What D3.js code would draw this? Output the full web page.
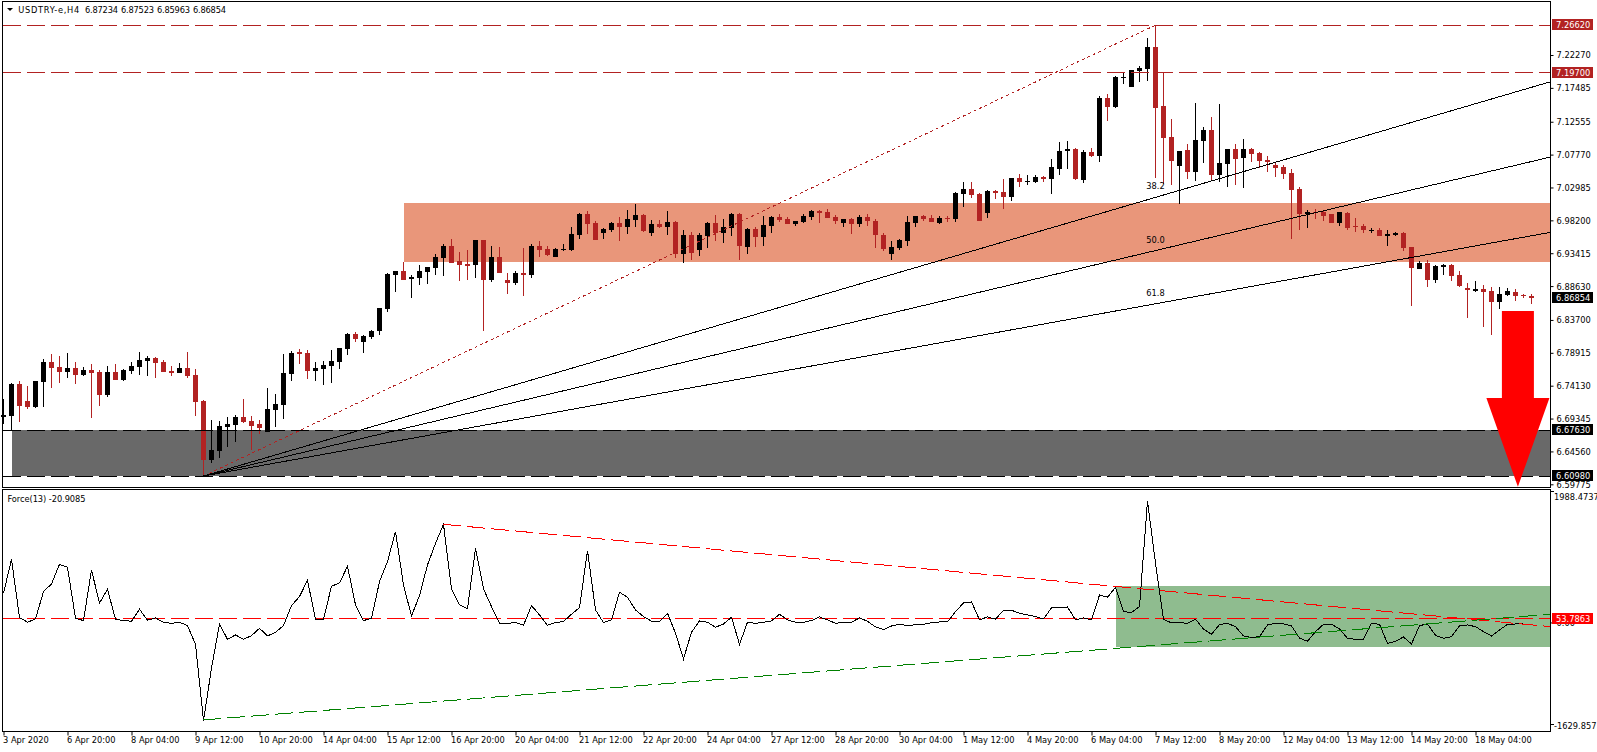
<!DOCTYPE html>
<html>
<head>
<meta charset="utf-8">
<script src="https://d3js.org/d3.v7.min.js"></script>
<style>
  html, body { margin: 0; padding: 0; background: #fff; overflow: hidden; }
  svg { display: block; }
  text { font-family: "DejaVu Sans Condensed", "DejaVu Sans", sans-serif; font-stretch: condensed; font-size: 9.2px; fill: #000; white-space: pre; }
  .axis path { display: none; }
  .axis line { stroke: #000; }
  .crisp { shape-rendering: crispEdges; }
</style>
</head>
<body>
<div class="viz"></div>
<script>
// one entry per H4 bar, left to right
var opens = [
  6.6962,6.6976,6.7438,6.7185,6.7107,6.7471,6.7758,6.7685,6.7612,6.7670,6.7569,6.7641,6.7612,6.7277,6.7612,6.7496,
  6.7627,6.7685,6.7772,6.7816,6.7758,6.7627,6.7598,6.7670,6.7569,6.7190,6.6331,6.6462,6.6811,6.6841,6.6957,6.6899,
  6.6855,6.6739,6.7059,6.7132,6.7583,6.7903,6.7889,6.7627,6.7656,6.7700,6.7758,6.7947,6.8165,6.8049,6.8122,6.8209,
  6.8529,6.9024,6.9082,6.8966,6.8980,6.9068,6.9126,6.9271,6.9446,6.9228,6.9184,6.9169,6.9533,6.8951,6.9286,6.8951,
  6.8907,6.9053,6.9024,6.9446,6.9402,6.9286,6.9388,6.9388,6.9606,6.9912,6.9781,6.9635,6.9679,6.9781,6.9723,6.9825,
  6.9897,6.9635,6.9766,6.9723,6.9796,6.9330,6.9606,6.9388,6.9592,6.9781,6.9635,6.9708,6.9912,6.9432,6.9694,6.9577,
  6.9737,6.9868,6.9839,6.9766,6.9796,6.9868,6.9956,6.9941,6.9868,6.9781,6.9839,6.9766,6.9868,6.9810,6.9606,6.9330,
  6.9417,6.9519,6.9781,6.9883,6.9854,6.9781,6.9854,6.9839,7.0203,7.0276,7.0203,6.9927,7.0247,7.0232,7.0160,7.0436,
  7.0378,7.0378,7.0451,7.0422,7.0567,7.0829,7.0858,7.0407,7.0815,7.0756,7.1601,7.1470,7.1892,7.1761,7.1994,7.2023,
  7.2343,7.1484,7.1033,7.0611,7.0844,7.0523,7.0975,7.1135,7.0480,7.0640,7.0858,7.0727,7.0858,7.0800,7.0698,7.0625,
  7.0596,7.0509,7.0276,6.9912,6.9941,6.9941,6.9912,6.9781,6.9926,6.9737,6.9737,6.9664,6.9679,6.9592,6.9606,6.9635,
  6.9431,6.9111,6.9198,6.8951,6.9140,6.9169,6.9024,6.8834,6.8791,6.8820,6.8791,6.8631,6.8733,6.8776,6.8733,6.87234
];
var highs = [
  6.7219,6.7447,6.7481,6.7408,6.7481,6.7797,6.7874,6.7845,6.7889,6.7758,6.7685,6.7729,6.7641,6.7700,6.7729,6.7656,
  6.7758,6.7903,6.7845,6.7835,6.7787,6.7700,6.7743,6.7903,6.7656,6.7200,6.6913,6.6899,6.6957,6.6986,6.7219,6.6972,
  6.6913,6.7379,6.7292,6.7874,6.7918,6.7947,6.7933,6.7758,6.7772,6.7933,6.7962,6.8180,6.8195,6.8151,6.8224,6.8549,
  6.9049,6.9083,6.9213,6.9024,6.9169,6.9140,6.9330,6.9475,6.9548,6.9359,6.9388,6.9533,6.9533,6.9446,6.9432,6.9053,
  6.9082,6.9417,6.9475,6.9519,6.9446,6.9417,6.9475,6.9723,6.9927,6.9956,6.9810,6.9708,6.9796,6.9868,6.9970,7.0058,
  6.9912,6.9825,6.9825,6.9956,6.9810,6.9679,6.9650,6.9635,6.9796,6.9897,6.9839,6.9927,6.9927,6.9708,6.9723,6.9883,
  6.9883,6.9912,6.9868,6.9810,6.9912,6.9970,6.9970,6.9985,6.9897,6.9839,6.9854,6.9897,6.9912,6.9839,6.9635,6.9519,
  6.9548,6.9883,6.9883,6.9897,6.9897,6.9883,6.9883,7.0232,7.0378,7.0378,7.0218,7.0261,7.0261,7.0422,7.0436,7.0494,
  7.0480,7.0480,7.0465,7.0713,7.0960,7.0975,7.0873,7.0844,7.0873,7.1630,7.1659,7.1921,7.1979,7.2008,7.2067,7.2474,
  7.2662,7.1974,7.1295,7.0829,7.0931,7.1528,7.1179,7.1324,7.1513,7.0858,7.0931,7.1004,7.0873,7.0815,7.0756,7.0669,
  7.0625,7.0567,7.0305,6.9970,6.9985,6.9970,6.9912,6.9941,6.9941,6.9854,6.9766,6.9708,6.9708,6.9679,6.9650,6.9650,
  6.9431,6.9228,6.9242,6.9169,6.9184,6.9184,6.9082,6.8907,6.8936,6.8878,6.8849,6.8849,6.8834,6.8820,6.8747,6.87523
];
var lows = [
  6.6860,6.6758,6.6889,6.7078,6.7093,6.7107,6.7379,6.7452,6.7525,6.7438,6.7554,6.6942,6.7117,6.7248,6.7496,6.7481,
  6.7583,6.7569,6.7554,6.7525,6.7612,6.7554,6.7598,6.7525,6.6972,6.6098,6.6287,6.6360,6.6520,6.6593,6.6870,6.6477,
  6.6710,6.6739,6.6811,6.6928,6.7481,6.7729,6.7510,6.7481,6.7423,6.7452,6.7656,6.7860,6.8049,6.7889,6.8093,6.8151,
  6.8486,6.8777,6.8951,6.8689,6.8878,6.8893,6.9024,6.9009,6.9199,6.8937,6.8951,6.8980,6.8209,6.8922,6.9053,6.8747,
  6.8878,6.8718,6.8980,6.9286,6.9301,6.9286,6.9373,6.9373,6.9548,6.9621,6.9533,6.9548,6.9650,6.9519,6.9621,6.9723,
  6.9650,6.9592,6.9708,6.9606,6.9271,6.9199,6.9242,6.9301,6.9417,6.9519,6.9490,6.9592,6.9242,6.9330,6.9432,6.9446,
  6.9635,6.9796,6.9766,6.9737,6.9781,6.9825,6.9781,6.9854,6.9766,6.9723,6.9621,6.9723,6.9737,6.9417,6.9373,6.9242,
  6.9388,6.9446,6.9723,6.9810,6.9796,6.9766,6.9796,6.9796,7.0014,7.0145,6.9810,6.9854,7.0130,6.9985,7.0101,7.0305,
  7.0334,7.0363,7.0378,7.0203,7.0480,7.0567,7.0407,7.0363,7.0742,7.0669,7.1266,7.1455,7.1805,7.1761,7.1834,7.1848,
  7.0436,7.0349,7.0334,7.0058,7.0422,7.0392,7.0654,7.0407,7.0378,7.0305,7.0334,7.0290,7.0669,7.0582,7.0523,7.0451,
  7.0422,6.9548,6.9679,6.9708,6.9839,6.9810,6.9781,6.9737,6.9679,6.9650,6.9635,6.9635,6.9592,6.9446,6.9592,6.9373,
  6.8572,6.9111,6.8849,6.8907,6.9024,6.8936,6.8849,6.8398,6.8776,6.8267,6.8150,6.8529,6.8718,6.8645,6.8689,6.85963
];
var closes = [
  6.6991,6.7438,6.7122,6.7107,6.7481,6.7758,6.7670,6.7612,6.7670,6.7569,6.7641,6.7598,6.7277,6.7612,6.7496,6.7641,
  6.7700,6.7787,6.7816,6.7743,6.7612,6.7598,6.7670,6.7554,6.7175,6.6331,6.6477,6.6826,6.6855,6.6957,6.6884,6.6826,
  6.6797,6.7074,6.7146,6.7598,6.7889,6.7874,6.7627,6.7670,6.7714,6.7772,6.7962,6.8165,6.8093,6.8136,6.8209,6.8539,
  6.9039,6.9083,6.8951,6.8995,6.9082,6.9140,6.9286,6.9446,6.9199,6.9169,6.9155,6.9533,6.8951,6.9286,6.9053,6.8907,
  6.9053,6.9024,6.9446,6.9388,6.9315,6.9402,6.9402,6.9621,6.9912,6.9766,6.9533,6.9694,6.9781,6.9723,6.9839,6.9897,
  6.9664,6.9766,6.9723,6.9796,6.9330,6.9606,6.9344,6.9606,6.9781,6.9635,6.9723,6.9912,6.9446,6.9694,6.9577,6.9752,
  6.9868,6.9825,6.9766,6.9810,6.9883,6.9956,6.9927,6.9854,6.9810,6.9839,6.9766,6.9868,6.9810,6.9606,6.9402,6.9432,
  6.9534,6.9796,6.9883,6.9839,6.9796,6.9854,6.9839,7.0218,7.0276,7.0189,6.9810,7.0247,7.0218,7.0160,7.0436,7.0378,
  7.0392,7.0451,7.0422,7.0596,7.0829,7.0858,7.0422,7.0815,7.0756,7.1601,7.1470,7.1907,7.1907,7.2008,7.2038,7.2343,
  7.1455,7.1018,7.0684,7.0829,7.0523,7.0989,7.1135,7.0480,7.0654,7.0858,7.0713,7.0858,7.0786,7.0684,7.0669,7.0582,
  7.0494,7.0261,6.9912,6.9941,6.9927,6.9883,6.9781,6.9941,6.9708,6.9723,6.9679,6.9679,6.9592,6.9621,6.9635,6.9417,
  6.9126,6.9198,6.8951,6.9155,6.9169,6.9009,6.8864,6.8805,6.8820,6.8776,6.8631,6.8747,6.8791,6.8718,6.8718,6.86854
];
// Force(13) per bar
var force = [
  438,948,73,3,53,463,578,873,828,63,28,788,288,498,48,28,18,198,33,68,3,-13,3,-48,-328,-1473,-688,-28,-253,-188,-253,-198,
  -88,-203,-148,-48,253,388,633,48,48,543,593,843,263,28,63,613,913,1363,563,98,403,863,1188,1473,498,263,203,1113,503,238,-13,
  -13,-3,-43,253,113,-43,-3,13,123,223,1078,188,-3,38,453,378,188,88,18,18,138,-163,-548,-148,23,3,-73,-23,78,-328,3,-13,3,
  23,123,38,3,3,28,83,38,-13,3,3,68,18,-68,-108,-53,-28,-48,-33,-28,-3,7,7,163,293,308,38,83,48,183,183,138,113,88,53,218,218,233,38,68,38,
  413,378,528,163,148,238,1823,888,48,-8,-3,-13,48,-98,-178,-33,-13,-63,-203,-228,-213,-38,-13,-23,-53,-233,-283,-138,-28,-28,-98,
  -238,-253,-253,-13,-28,-313,-283,-218,-323,-48,-23,-193,-238,-213,-53,-38,-63,-138,-203,-113,-28,-23,-21
];

var priceTicks = [7.2227,7.17485,7.12555,7.0777,7.02985,6.982,6.93415,6.8863,6.837,6.78915,6.7413,6.69345,6.6456,6.59775];
var dateLabels = ["3 Apr 2020","6 Apr 20:00","8 Apr 04:00","9 Apr 12:00","10 Apr 20:00","14 Apr 04:00","15 Apr 12:00","16 Apr 20:00",
  "20 Apr 04:00","21 Apr 12:00","22 Apr 20:00","24 Apr 04:00","27 Apr 12:00","28 Apr 20:00","30 Apr 04:00","1 May 12:00",
  "4 May 20:00","6 May 04:00","7 May 12:00","8 May 20:00","12 May 04:00","13 May 12:00","14 May 20:00","18 May 04:00"];
var barsPerTick = 8;
var titleValues = ["6.87234", "6.87523", "6.85963", "6.86854"];

var resistanceLevels = [7.2662, 7.197];
var supportLevels = [6.6763, 6.6098];
var zoneTop = 7.0073, zoneBottom = 6.9213, zoneStartBar = 50;
var supportStartBar = 1;
var fanLevels = [0.382, 0.5, 0.618];
var fanLabels = ["38.2", "50.0", "61.8"];
var fanStart = {bar: 25, price: 6.6098}, fanEnd = {bar: 144, price: 7.2662};

var forceLevel = 53.7863;
var forceZone = {bar: 139, top: 547, bottom: -362};
var forceDown = {bars: [55, 193.3], values: [1473, -62]};
var forceUp = {bars: [25, 193.3], values: [-1463, 122]};

// set the layout of the two panes
var width = 1597, height = 752,
    left = 2.5, right = 1550.5,
    mainTop = 1.5, mainBottom = 487.5,
    subTop = 489.5, subBottom = 731.5;

var svg = d3.select(".viz").append("svg")
    .attr("width", width)
    .attr("height", height);

var x = d3.scaleLinear().domain([0, 191]).range([3.5, 1531.5]);
var y = d3.scaleLinear().domain([6.59775, 7.2227]).range([484.3, 55]);
var yF = d3.scaleLinear().domain([-1629.857, 1988.4737]).range([731, 490]);
var lastBar = x.invert(1550);

// zones go behind the candles
svg.append("rect").attr("class", "crisp")
    .attr("x", x(zoneStartBar)).attr("width", right - x(zoneStartBar))
    .attr("y", y(zoneTop)).attr("height", y(zoneBottom) - y(zoneTop))
    .attr("fill", "#e9967a");
svg.append("rect").attr("class", "crisp")
    .attr("x", x(supportStartBar)).attr("width", right - x(supportStartBar))
    .attr("y", y(supportLevels[0])).attr("height", y(supportLevels[1]) - y(supportLevels[0]))
    .attr("fill", "#696969");
svg.append("rect").attr("class", "crisp")
    .attr("x", x(forceZone.bar)).attr("width", right - x(forceZone.bar))
    .attr("y", yF(forceZone.top)).attr("height", yF(forceZone.bottom) - yF(forceZone.top))
    .attr("fill", "#8fbc8f");

// candles
var bars = d3.range(opens.length);
var barColor = function(i) { return closes[i] < opens[i] ? "#b22222" : "#000"; };

svg.append("g").attr("class", "crisp").selectAll("line")
    .data(bars).join("line")
    .attr("x1", i => x(i)).attr("x2", i => x(i))
    .attr("y1", i => y(highs[i])).attr("y2", i => y(lows[i]))
    .attr("stroke", barColor);

svg.append("g").attr("class", "crisp").selectAll("rect")
    .data(bars).join("rect")
    .attr("x", i => x(i) - 2.5).attr("width", 5)
    .attr("y", i => y(Math.max(opens[i], closes[i])))
    .attr("height", i => Math.max(1, Math.abs(y(opens[i]) - y(closes[i]))))
    .attr("fill", barColor);

// horizontal levels
function hline(v, scale, color) {
    svg.append("line").attr("class", "crisp")
        .attr("x1", 3).attr("x2", right)
        .attr("y1", scale(v)).attr("y2", scale(v))
        .attr("stroke", color)
        .attr("stroke-dasharray", "18 6");
}
resistanceLevels.forEach(v => hline(v, y, "#b22222"));
supportLevels.forEach(v => hline(v, y, "#000"));
hline(forceLevel, yF, "#ff0000");

// fibonacci fan
svg.append("line").attr("class", "crisp")
    .attr("x1", x(fanStart.bar)).attr("y1", y(fanStart.price))
    .attr("x2", x(fanEnd.bar)).attr("y2", y(fanEnd.price))
    .attr("stroke", "#b22222")
    .attr("stroke-dasharray", "3 3");

fanLevels.forEach(function(r, k) {
    var levelPrice = fanEnd.price - r * (fanEnd.price - fanStart.price);
    var endPrice = fanStart.price + (levelPrice - fanStart.price) * (lastBar - fanStart.bar) / (fanEnd.bar - fanStart.bar);
    svg.append("line").attr("class", "crisp")
        .attr("x1", x(fanStart.bar)).attr("y1", y(fanStart.price))
        .attr("x2", x(lastBar)).attr("y2", y(endPrice))
        .attr("stroke", "#000");
    svg.append("text")
        .attr("x", x(fanEnd.bar)).attr("y", y(levelPrice) - 8)
        .attr("text-anchor", "middle")
        .text(fanLabels[k]);
});

// force line and its trend lines
var forceLine = d3.line().x((d, i) => x(i)).y(d => yF(d));
svg.append("path").attr("class", "crisp")
    .attr("d", forceLine(force))
    .attr("fill", "none")
    .attr("stroke", "#000");

function trend(t, color) {
    svg.append("line").attr("class", "crisp")
        .attr("x1", x(t.bars[0])).attr("y1", yF(t.values[0]))
        .attr("x2", x(t.bars[1])).attr("y2", yF(t.values[1]))
        .attr("stroke", color)
        .attr("stroke-dasharray", "18 6");
}
trend(forceDown, "#ff0000");
trend(forceUp, "#008000");

// pane frames
svg.append("rect").attr("class", "crisp")
    .attr("x", left).attr("y", mainTop)
    .attr("width", right - left).attr("height", mainBottom - mainTop)
    .attr("fill", "none").attr("stroke", "#000");
svg.append("rect").attr("class", "crisp")
    .attr("x", left).attr("y", subTop)
    .attr("width", right - left).attr("height", subBottom - subTop)
    .attr("fill", "none").attr("stroke", "#000");

// axes
svg.append("g").attr("class", "axis")
    .attr("transform", "translate(" + right + ",0)")
    .call(d3.axisRight(y).tickValues(priceTicks).tickSize(3).tickPadding(3).tickFormat(d3.format(".5f")));

svg.append("g").attr("class", "axis")
    .attr("transform", "translate(" + right + ",0)")
    .call(d3.axisRight(yF).tickValues([0]).tickSize(3).tickPadding(3).tickFormat(d3.format(".2f")));

svg.append("g").attr("class", "axis")
    .attr("transform", "translate(0," + subBottom + ")")
    .call(d3.axisBottom(x).tickValues(dateLabels.map((d, k) => k * barsPerTick)).tickSize(4).tickPadding(1)
        .tickFormat((d, k) => dateLabels[k]))
    .selectAll("text").attr("text-anchor", "start").attr("dx", -1);

svg.selectAll(".axis text").style("font-size", "9.2px").style("font-family", "'DejaVu Sans Condensed', 'DejaVu Sans', sans-serif");

// force scale ends sit just inside the pane
svg.append("text").attr("x", 1554).attr("y", subTop + 10).text("1988.4737");
svg.append("text").attr("x", 1554).attr("y", subBottom - 3).text("-1629.857");
[subTop + 2, subBottom - 7].forEach(function(v) {
    svg.append("line").attr("class", "crisp")
        .attr("x1", right).attr("x2", right + 3)
        .attr("y1", v).attr("y2", v)
        .attr("stroke", "#000");
});

// price flags on the scale
function flag(v, scale, label, color) {
    var cy = Math.round(scale(v));
    svg.append("rect").attr("class", "crisp")
        .attr("x", 1552).attr("y", cy - 6)
        .attr("width", 41).attr("height", 11)
        .attr("fill", color);
    svg.append("text")
        .attr("x", 1556).attr("y", cy + 3)
        .style("fill", "#fff")
        .text(label);
}
resistanceLevels.forEach(v => flag(v, y, d3.format(".5f")(v), "#b22222"));
supportLevels.forEach(v => flag(v, y, d3.format(".5f")(v), "#000"));
flag(closes[closes.length - 1], y, d3.format(".5f")(closes[closes.length - 1]), "#000");
flag(forceLevel, yF, "53.7863", "#ff0000");

// big arrow, given in bars and price
var arrowBar = 189.3, arrowTop = 6.85, arrowNeck = 6.7233, arrowTip = 6.5941, shaftHalf = 2, headHalf = 3.94;
var arrowPoints = [
    [arrowBar - shaftHalf, arrowTop], [arrowBar + shaftHalf, arrowTop], [arrowBar + shaftHalf, arrowNeck],
    [arrowBar + headHalf, arrowNeck], [arrowBar, arrowTip], [arrowBar - headHalf, arrowNeck], [arrowBar - shaftHalf, arrowNeck]
];
svg.append("polygon")
    .attr("points", arrowPoints.map(p => x(p[0]) + "," + y(p[1])).join(" "))
    .attr("fill", "#ff0000");

// titles
svg.append("path").attr("d", "M7,8 L13,8 L10,11 Z").attr("fill", "#000");
svg.append("text").attr("x", 18.3).attr("y", 13).attr("textLength", 61).attr("lengthAdjust", "spacing").text("USDTRY-e,H4");
titleValues.forEach(function(v, k) {
    svg.append("text").attr("x", 85 + k * 36).attr("y", 13).attr("textLength", 33).attr("lengthAdjust", "spacing").text(v);
});
svg.append("text").attr("x", 7.5).attr("y", 502).attr("textLength", 78).attr("lengthAdjust", "spacing").text("Force(13) -20.9085");
</script>
</body>
</html>
